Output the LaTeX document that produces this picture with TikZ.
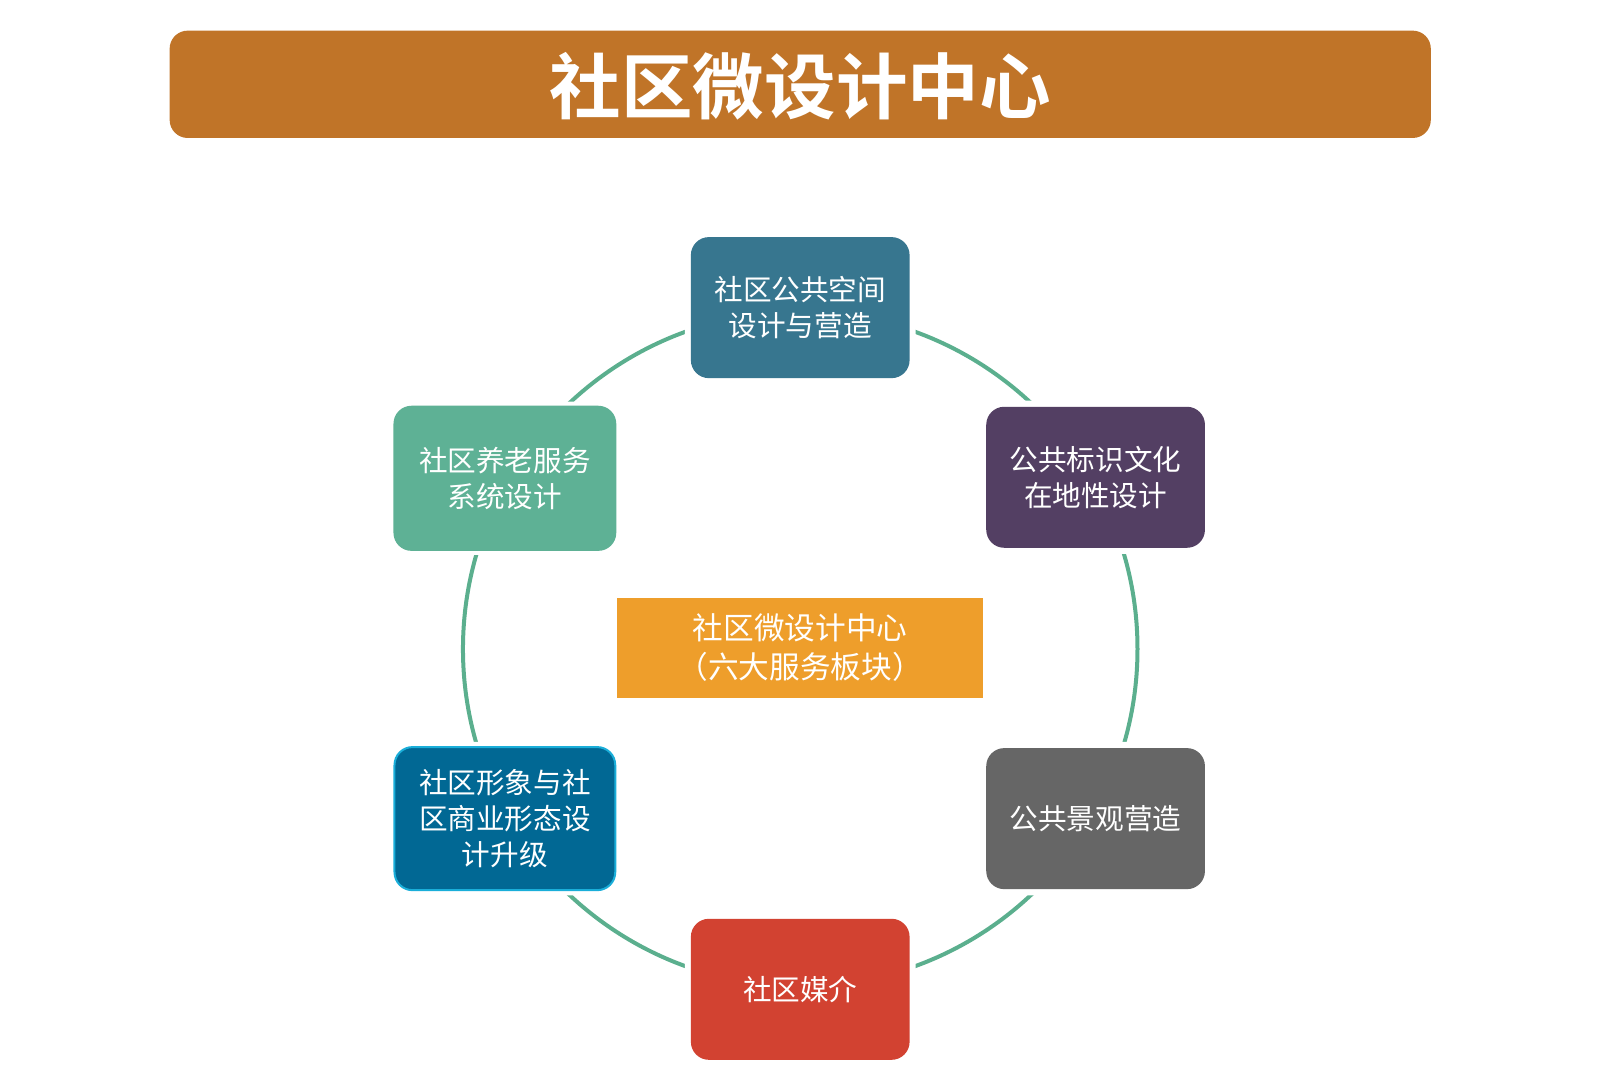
\documentclass[tikz,border=0pt]{standalone}
\usepackage{fontspec}
\newfontfamily\cjk{Noto Sans CJK SC}
\newfontfamily\cjkb{Noto Sans CJK SC Bold}
\begin{document}
\begin{tikzpicture}[x=1pt,y=-1pt,
  box/.style={rounded corners=18pt,minimum width=214pt,minimum height=138pt,text=white,align=center,font=\cjk\fontsize{28}{35}\selectfont,inner sep=2pt},
  halo/.style={fill=white,rounded corners=22pt,minimum width=226pt,minimum height=150pt}]
\useasboundingbox (0,0) rectangle (1600,1091);
\clip (0,0) rectangle (1600,1091);
\begin{scope}[scale=1.022,transform shape]
\definecolor{tb}{HTML}{C07428}
\node[fill=tb,rounded corners=18pt,minimum width=1234pt,minimum height=105pt] (title) at (783,82.5) {};
\node[text=white,font=\cjkb\fontsize{70}{80}\selectfont] (tt) at (783,84) {社区微设计中心};
\draw[color={rgb,255:red,91;green,175;blue,142},line width=4pt] (783,635) circle (330);
\foreach \p in {(783,301),(1072,467),(494,468),(494,801),(1072,801),(783,968)} \node[halo] at \p {};
\node[box,fill={rgb,255:red,55;green,118;blue,143}] (a) at (783,301) {社区公共空间\\设计与营造};
\node[box,fill={rgb,255:red,83;green,63;blue,99}] (b) at (1072,467) {公共标识文化\\在地性设计};
\node[box,fill={rgb,255:red,94;green,177;blue,149},minimum width=218pt,minimum height=142pt] (c) at (494,468) {社区养老服务\\系统设计};
\node[box,fill={rgb,255:red,1;green,104;blue,148},draw={rgb,255:red,26;green,174;blue,217},line width=2pt,minimum width=216pt,minimum height=140pt] (d) at (494,801) {社区形象与社\\区商业形态设\\计升级};
\node[box,fill={rgb,255:red,102;green,102;blue,102}] (e) at (1072,801) {公共景观营造};
\node[box,fill={rgb,255:red,210;green,66;blue,49}] (f) at (783,968) {社区媒介};
\node[fill={rgb,255:red,238;green,158;blue,43},minimum width=358pt,minimum height=97pt,text=white,align=center,font=\cjk\fontsize{30}{38}\selectfont] (m) at (783,634) {社区微设计中心\\（六大服务板块）};
\end{scope}
\end{tikzpicture}
\end{document}
